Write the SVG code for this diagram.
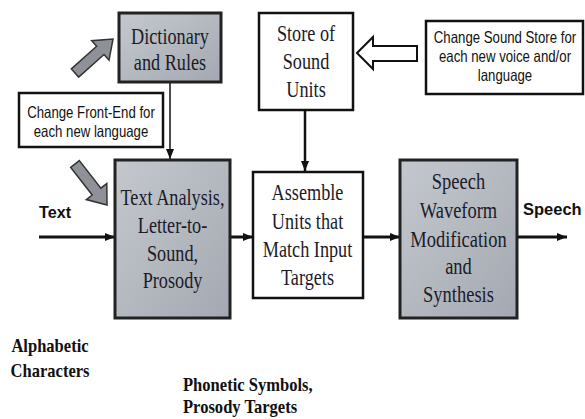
<svg xmlns="http://www.w3.org/2000/svg" width="585" height="419" viewBox="0 0 585 419">
  <style>
    .gbox { fill: url(#steel); stroke: #222; stroke-width: 3; }
    .wbox { fill: #fff; stroke: #111; stroke-width: 2.5; }
    .serif { font-family: "Liberation Serif", "Times New Roman", serif; font-size: 24px; fill: #1b1b2a; text-anchor: middle; }
    .note { font-family: "Liberation Sans", Arial, sans-serif; font-size: 16.5px; fill: #111; text-anchor: middle; }
    .io { font-family: "Liberation Sans", Arial, sans-serif; font-size: 17px; font-weight: bold; fill: #111; }
    .cap { font-family: "Liberation Serif", "Times New Roman", serif; font-size: 18px; font-weight: bold; fill: #111; }
    .flow { stroke: #111; fill: none; marker-end: url(#head); }
    .block { fill: #8e9298; stroke: #333; stroke-width: 1.5; stroke-linejoin: miter; }
  </style>
  <defs>
    <linearGradient id="steel" x1="0" y1="0" x2="1" y2="1">
      <stop offset="0" stop-color="#c4c8ce"/>
      <stop offset="1" stop-color="#a4a9b1"/>
    </linearGradient>
    <marker id="head" markerUnits="userSpaceOnUse" markerWidth="10" markerHeight="8" refX="10" refY="4" orient="auto">
      <path d="M0,0 L10,4 L0,8 Z" fill="#111"/>
    </marker>
  </defs>

  <rect width="585" height="419" fill="#fff"/>

  <!-- connectors -->
  <g id="connectors">
    <line class="flow" x1="39" y1="237" x2="115" y2="237" stroke-width="3"/>
    <line class="flow" x1="231" y1="237" x2="253" y2="237" stroke-width="3"/>
    <line class="flow" x1="364" y1="237" x2="400" y2="237" stroke-width="3"/>
    <line class="flow" x1="518" y1="237" x2="567" y2="237" stroke-width="3"/>
    <line class="flow" x1="170" y1="83" x2="170" y2="159" stroke-width="1.5"/>
    <line class="flow" x1="305" y1="111" x2="305" y2="171" stroke-width="2.5"/>
    <!-- grey block arrows from the front-end note -->
    <polygon class="block" transform="translate(75,73) rotate(-41.8)" points="0,-5.5 34,-5.5 34,-13 51,0 34,13 34,5.5 0,5.5"/>
    <polygon class="block" transform="translate(75,164) rotate(52)" points="0,-5.5 35,-5.5 35,-13 52,0 35,13 35,5.5 0,5.5"/>
    <!-- hollow arrow from the sound store note -->
    <polygon fill="#fff" stroke="#111" stroke-width="2" points="357,53 373,37 373,46 417,46 417,61 373,61 373,69"/>
  </g>

  <g id="dictionary">
    <rect class="gbox" x="119" y="13" width="102" height="69"/>
    <g transform="translate(170,0) scale(0.76,1)">
      <text class="serif" x="0" y="44">Dictionary</text>
      <text class="serif" x="0" y="70">and Rules</text>
    </g>
  </g>

  <g id="sound-store">
    <rect class="wbox" x="259" y="13" width="94" height="97"/>
    <g transform="translate(306,0) scale(0.76,1)">
      <text class="serif" x="0" y="41">Store of</text>
      <text class="serif" x="0" y="69">Sound</text>
      <text class="serif" x="0" y="97">Units</text>
    </g>
  </g>

  <g id="note-sound">
    <rect class="wbox" x="426" y="21" width="157" height="73"/>
    <g transform="translate(505,0) scale(0.8,1)">
      <text class="note" x="0" y="43">Change Sound Store for</text>
      <text class="note" x="0" y="62">each new voice and/or</text>
      <text class="note" x="0" y="81">language</text>
    </g>
  </g>

  <g id="note-frontend">
    <rect class="wbox" x="19" y="93" width="144" height="54"/>
    <g transform="translate(91,0) scale(0.8,1)">
      <text class="note" x="0" y="118">Change Front-End for</text>
      <text class="note" x="0" y="137">each new language</text>
    </g>
  </g>

  <g id="text-analysis">
    <rect class="gbox" x="115" y="160" width="115" height="158"/>
    <g transform="translate(172.5,0) scale(0.76,1)">
      <text class="serif" x="0" y="205">Text Analysis,</text>
      <text class="serif" x="0" y="233">Letter-to-</text>
      <text class="serif" x="0" y="261">Sound,</text>
      <text class="serif" x="0" y="288">Prosody</text>
    </g>
  </g>

  <g id="assemble">
    <rect class="wbox" x="253" y="172" width="110" height="126"/>
    <g transform="translate(307.5,0) scale(0.76,1)">
      <text class="serif" x="0" y="200">Assemble</text>
      <text class="serif" x="0" y="229">Units that</text>
      <text class="serif" x="0" y="257">Match Input</text>
      <text class="serif" x="0" y="285">Targets</text>
    </g>
  </g>

  <g id="synthesis">
    <rect class="gbox" x="400" y="160" width="117" height="158"/>
    <g transform="translate(458.5,0) scale(0.77,1)">
      <text class="serif" x="0" y="189">Speech</text>
      <text class="serif" x="0" y="218">Waveform</text>
      <text class="serif" x="0" y="247">Modification</text>
      <text class="serif" x="0" y="274">and</text>
      <text class="serif" x="0" y="302">Synthesis</text>
    </g>
  </g>

  <g id="labels">
    <text class="io" transform="translate(39,218) scale(0.95,1)">Text</text>
    <text class="io" transform="translate(523,215) scale(0.97,1)">Speech</text>
    <g transform="translate(50,0) scale(0.92,1)">
      <text class="cap" x="0" y="352" text-anchor="middle">Alphabetic</text>
      <text class="cap" x="0" y="377" text-anchor="middle">Characters</text>
    </g>
    <g transform="translate(183,0) scale(0.92,1)">
      <text class="cap" x="0" y="391">Phonetic Symbols,</text>
      <text class="cap" x="0" y="413">Prosody Targets</text>
    </g>
  </g>
</svg>
